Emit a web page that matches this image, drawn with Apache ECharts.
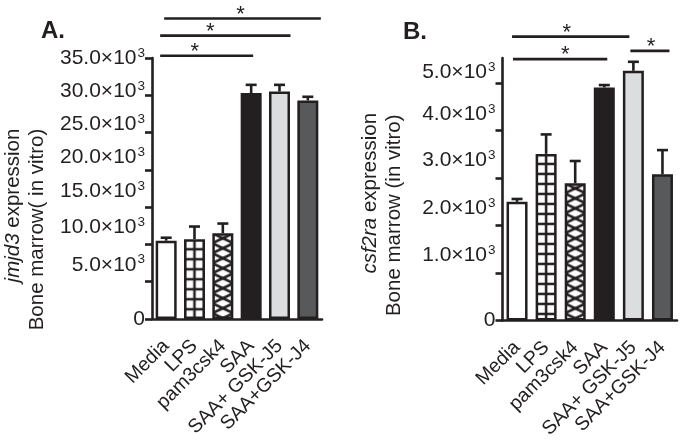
<!DOCTYPE html>
<html><head><meta charset="utf-8">
<script src="https://cdn.jsdelivr.net/npm/echarts@6/dist/echarts.min.js"></script>
<style>html,body{margin:0;padding:0;background:#fff}#c{width:680px;height:444px}</style>
</head><body><div id="c"></div>
<script>
// ---------- data ----------
const categories = ['Media', 'LPS', 'pam3csk4', 'SAA', 'SAA+ GSK-J5', 'SAA+GSK-J4'];
const jmjd3Values = [10500, 10700, 11500, 30300, 30500, 29300];
const jmjd3Errors = [400, 1700, 1300, 1100, 900, 500];
const csf2raValues = [2500, 3510, 2890, 4910, 5260, 3080];
const csf2raErrors = [60, 410, 470, 50, 190, 510];
const jmjd3TickValues = [0, 5000, 10000, 15000, 20000, 25000, 30000, 35000];
const jmjd3TickLabels = ['0', '5.0×10³', '10.0×10³', '15.0×10³', '20.0×10³', '25.0×10³', '30.0×10³', '35.0×10³'];
const csf2raTickValues = [0, 1000, 2000, 3000, 4000, 5000];
const csf2raTickLabels = ['0', '1.0×10³', '2.0×10³', '3.0×10³', '4.0×10³', '5.0×10³'];
const jmjd3AxisMax = 35000;
const csf2raAxisMax = 5530;
const jmjd3Title = ['jmjd3', ' expression', 'Bone marrow( in vitro)'];
const csf2raTitle = ['csf2ra', ' expression', 'Bone marrow (in vitro)'];
// significance brackets: category index range and height in axis units
const jmjd3Brackets = [{from: 0, to: 5, y: 40300}, {from: 0, to: 4, y: 38000}, {from: 0, to: 3, y: 35300}];
const csf2raBrackets = [{from: 0, to: 4, y: 5982}, {from: 0, to: 3, y: 5506}, {from: 4, to: 5, y: 5681}];

// ---------- style ----------
const INK = '#231f20';
const FONT = '"Liberation Sans", Arial, Helvetica, sans-serif';
const BAR_W = 21;
const labelShiftA = {5000: 17, 10000: 17, 15000: 16, 20000: 13, 25000: 8, 30000: 4};
const labelShiftB = {1000: 18, 2000: 17, 3000: 18, 4000: 16, 5000: 11};
const bracketStyleA = [{dl: -2, dr: 13, sx: -2}, {dl: -6, dr: 11, sx: -15}, {dl: -6, dr: 2, sx: -12}];
const bracketStyleB = [{dl: -5, dr: -4, sx: -4}, {dl: -4, dr: 3, sx: 5}, {dl: -3, dr: 7, sx: 1}];
const titlePadA = [17, 41];
const titlePadB = [4, 26];

function makeGridPattern() {
  const c = document.createElement('canvas'); c.width = 10; c.height = 10;
  const g = c.getContext('2d');
  g.fillStyle = '#fff'; g.fillRect(0, 0, 10, 10);
  g.fillStyle = INK;
  g.fillRect(0, 0, 1.25, 10); g.fillRect(8.75, 0, 1.25, 10);
  g.fillRect(0, 0, 10, 1.25); g.fillRect(0, 8.75, 10, 1.25);
  return c;
}
function makeXPattern() {
  const w = 21, h = 10;
  const c = document.createElement('canvas'); c.width = w; c.height = h;
  const g = c.getContext('2d');
  g.fillStyle = '#fff'; g.fillRect(0, 0, w, h);
  g.strokeStyle = INK; g.lineWidth = 2.6;
  for (let k = -1; k <= 1; k++) {
    g.beginPath(); g.moveTo(0, k * h); g.lineTo(w, k * h + h); g.stroke();
    g.beginPath(); g.moveTo(w, k * h); g.lineTo(0, k * h + h); g.stroke();
  }
  return c;
}
const gridCanvas = makeGridPattern();
const xCanvas = makeXPattern();
const fills = ['#ffffff', 'grid', 'x', INK, '#dcdddf', '#58595b'];

function tickRich(shifts) {
  const rich = {
    n: {fontSize: 21, lineHeight: 24, color: INK, fontFamily: FONT},
    s: {fontSize: 13.5, lineHeight: 13, verticalAlign: 'top', color: INK, fontFamily: FONT, padding: [0, 0, 0, 1]}
  };
  Object.values(shifts).forEach(s => { rich['g' + s] = {fontSize: 1, lineHeight: 2 * s}; });
  return rich;
}
function tickFormatter(values, labels, shifts) {
  return function (v) {
    const i = values.indexOf(v);
    if (i < 0) return '';
    const lab = labels[i];
    let out = lab.endsWith('³') ? '{n|' + lab.slice(0, -1) + '}{s|3}' : '{n|' + lab + '}';
    if (shifts[v]) out += '\n{g' + shifts[v] + '| }';
    return out;
  };
}
function titleText(t, pads) {
  return '{i|' + t[0] + '}{r|' + t[1] + '}{p' + pads[0] + '| }\n{r|' + t[2] + '}{p' + pads[1] + '| }';
}
function titleRich(pads) {
  const rich = {
    i: {fontStyle: 'italic', fontSize: 20.5, lineHeight: 24, color: INK, fontFamily: FONT},
    r: {fontSize: 20.5, lineHeight: 24, color: INK, fontFamily: FONT}
  };
  pads.forEach(p => { rich['p' + p] = {fontSize: 1, width: 2 * p}; });
  return rich;
}

function xAxisCfg(gi) {
  return {
    type: 'category', gridIndex: gi, data: categories,
    axisLine: {lineStyle: {color: INK, width: 2.6}},
    axisTick: {alignWithLabel: true, length: 8, lineStyle: {color: INK, width: 2.6}},
    axisLabel: {rotate: 45, fontSize: 19.5, color: INK, fontFamily: FONT, margin: 24, interval: 0}
  };
}
function yAxisCfg(gi, max, interval, tv, tl, shifts, title, pads, gap) {
  return {
    type: 'value', gridIndex: gi, min: 0, max: max, interval: interval,
    axisLine: {show: true, lineStyle: {color: INK, width: 2.6}},
    axisTick: {show: true, length: 7, lineStyle: {color: INK, width: 2.6}, customValues: tv},
    splitLine: {show: false},
    axisLabel: {color: INK, margin: 7, customValues: tv, formatter: tickFormatter(tv, tl, shifts), rich: tickRich(shifts)},
    name: titleText(title, pads), nameLocation: 'middle', nameRotate: 90, nameGap: gap,
    nameTextStyle: {color: INK, fontFamily: FONT, fontSize: 20.5, lineHeight: 24, rich: titleRich(pads)}
  };
}

function barData(values, patternPos) {
  return values.map((v, i) => {
    let color = fills[i];
    if (color === 'grid') {
      const p = patternPos ? patternPos[i] : {cx: 0, top: 0};
      color = {image: gridCanvas, repeat: 'repeat', x: p.cx, y: p.top};
    } else if (color === 'x') {
      const p = patternPos ? patternPos[i] : {cx: 0, top: 0};
      color = {image: xCanvas, repeat: 'repeat', x: p.cx - BAR_W / 2, y: p.top};
    }
    return {value: v, itemStyle: {color: color}};
  });
}
function errRender(params, api) {
  const idx = api.value(0), v = api.value(1), e = api.value(2);
  const p0 = api.coord([idx, v]), p1 = api.coord([idx, v + e]);
  const st = {stroke: INK, lineWidth: 2.6};
  return {type: 'group', children: [
    {type: 'line', shape: {x1: p0[0], y1: p0[1], x2: p1[0], y2: p1[1]}, style: st},
    {type: 'line', shape: {x1: p1[0] - 5.5, y1: p1[1], x2: p1[0] + 5.5, y2: p1[1]}, style: st}
  ]};
}
function series(gi, values, errors, pos) {
  return [
    {type: 'bar', xAxisIndex: gi, yAxisIndex: gi, barWidth: BAR_W, data: barData(values, pos),
     itemStyle: {borderColor: INK, borderWidth: 2.5}, z: 2},
    {type: 'custom', xAxisIndex: gi, yAxisIndex: gi, renderItem: errRender, z: 3,
     data: values.map((v, i) => [i, v, errors[i]]), encode: {x: 0, y: 1}}
  ];
}

const chart = echarts.init(document.getElementById('c'), null, {renderer: 'canvas'});
function buildOption(posA, posB, graphic) {
  return {
    animation: false,
    backgroundColor: '#fff',
    title: [
      {text: 'A.', left: 36, top: 14, textStyle: {fontSize: 24, fontWeight: 'bold', color: INK, fontFamily: FONT}},
      {text: 'B.', left: 398, top: 15, textStyle: {fontSize: 24, fontWeight: 'bold', color: INK, fontFamily: FONT}}
    ],
    grid: [
      {left: 147.5, top: 58, width: 174.5, height: 261},
      {left: 502.5, top: 58, width: 174.5, height: 262.5}
    ],
    xAxis: [xAxisCfg(0), xAxisCfg(1)],
    yAxis: [
      yAxisCfg(0, jmjd3AxisMax, 5000, jmjd3TickValues, jmjd3TickLabels, labelShiftA, jmjd3Title, titlePadA, 103),
      yAxisCfg(1, csf2raAxisMax, 1000, csf2raTickValues, csf2raTickLabels, labelShiftB, csf2raTitle, titlePadB, 96)
    ],
    series: [].concat(series(0, jmjd3Values, jmjd3Errors, posA), series(1, csf2raValues, csf2raErrors, posB)),
    graphic: graphic || []
  };
}
chart.setOption(buildOption(null, null, null));

function positions(gi, values) {
  return values.map((v, i) => {
    const p = chart.convertToPixel({gridIndex: gi}, [i, v]);
    return {cx: p[0], top: p[1]};
  });
}
function bracketGraphics(gi, brackets, styles) {
  const out = [];
  brackets.forEach((b, k) => {
    const s = styles[k];
    const p1 = chart.convertToPixel({gridIndex: gi}, [b.from, b.y]);
    const p2 = chart.convertToPixel({gridIndex: gi}, [b.to, b.y]);
    const x1 = p1[0] + s.dl, x2 = p2[0] + s.dr, y = p1[1];
    out.push({type: 'line', shape: {x1: x1, y1: y, x2: x2, y2: y}, style: {stroke: INK, lineWidth: 2.7}, z: 10});
    out.push({type: 'text', x: (x1 + x2) / 2 + s.sx, y: y - 4, z: 10,
      style: {text: '*', fontSize: 22, fontFamily: FONT, fill: INK, align: 'center', verticalAlign: 'middle'}});
  });
  return out;
}
const posA = positions(0, jmjd3Values), posB = positions(1, csf2raValues);
const graphics = bracketGraphics(0, jmjd3Brackets, bracketStyleA).concat(bracketGraphics(1, csf2raBrackets, bracketStyleB));
chart.setOption(buildOption(posA, posB, graphics), {notMerge: true});
</script>
</body></html>
